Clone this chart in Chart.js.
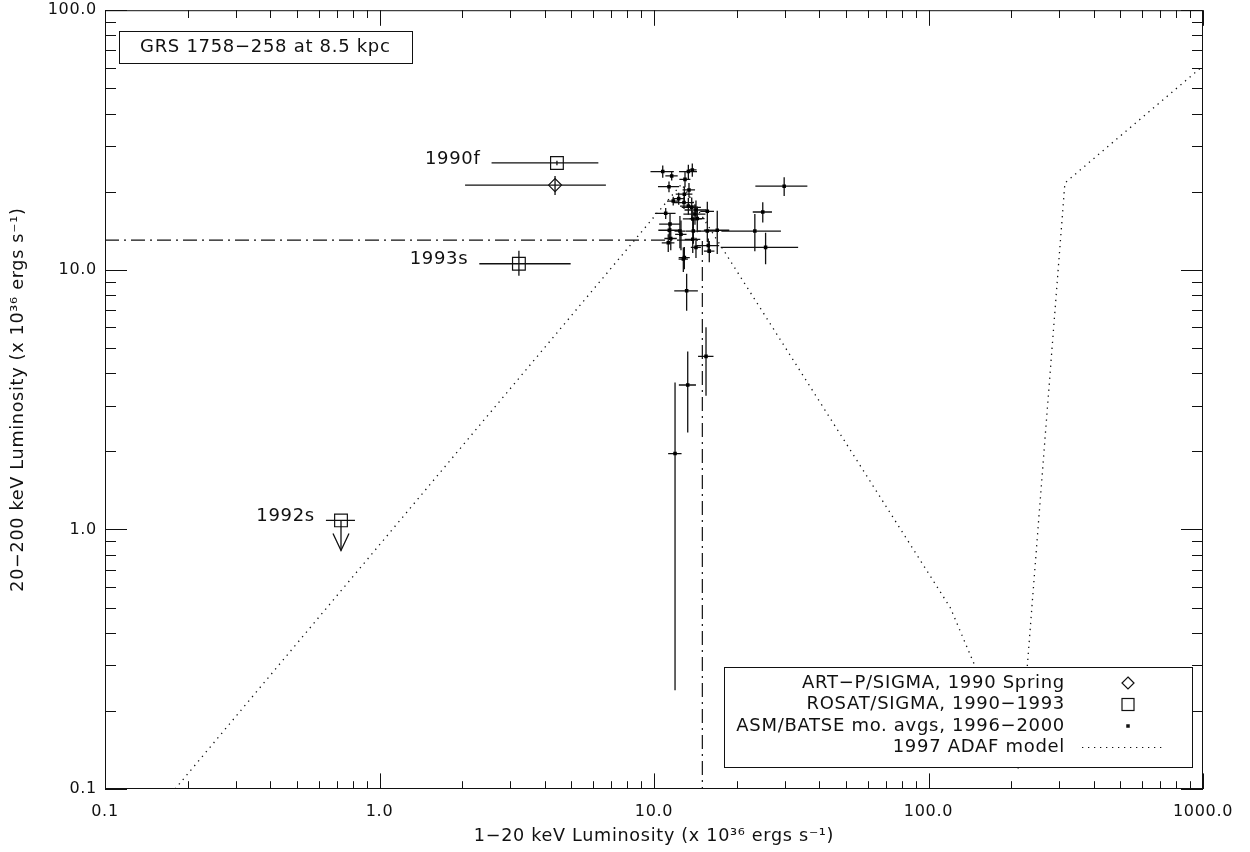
<!DOCTYPE html>
<html><head><meta charset="utf-8">
<script src="https://cdn.jsdelivr.net/npm/chart.js@4.4.1/dist/chart.umd.min.js"></script>
<style>html,body{margin:0;padding:0;background:#fff;}#wrap{width:1250px;height:852px;}</style>
</head><body><div id="wrap"><canvas id="c" width="1250" height="852"></canvas></div>
<script>
// ---------- data ----------
const xMajorTicks = [0.1, 1, 10, 100, 1000];
const xTickLabels = ['0.1', '1.0', '10.0', '100.0', '1000.0'];
const yMajorTicks = [0.1, 1, 10, 100];
const yTickLabels = ['0.1', '1.0', '10.0', '100.0'];

// ASM/BATSE monthly averages 1996-2000
const asmX    = [10.76,11.6,13.34,13.79,12.97,11.34,13.41,12.9,12.3,11.75,12.86,13.34,13.72,14.22,15.64,11.03,14.1,13.84,14.38,11.44,12.43,11.37,13.91,15.64,17.0,12.54,11.51,13.84,11.27,15.77,14.22,15.9,12.9,12.79,13.15,23.3,25.5,24.9,29.8,15.47,13.27,11.93];
const asmY    = [23.9,23.0,23.9,24.25,22.3,20.9,20.3,19.55,18.8,18.4,18.15,17.6,17.4,17.0,16.8,16.5,16.4,15.7,15.75,15.0,14.1,14.2,14.1,14.1,14.2,13.7,13.2,13.1,12.7,12.4,12.2,11.8,11.15,11.0,8.3,14.1,12.2,16.7,21.0,4.64,3.6,1.96];
const asmXErr = [1.05,0.6,1.0,0.5,0.6,1.0,0.7,0.9,0.6,0.6,1.1,0.9,1.1,1.3,0.9,0.95,1.3,1.1,0.9,1.0,0.55,1.0,0.9,1.2,1.8,0.6,0.6,0.9,0.6,1.5,0.6,0.7,0.6,0.5,1.3,5.7,8.0,2.0,6.4,1.0,0.95,0.67];
const asmYErr = [1.3,0.9,1.5,1.4,1.5,1.0,1.3,1.4,1.0,0.7,1.0,1.3,1.6,1.5,1.5,0.8,1.5,1.2,1.8,1.4,2.0,1.0,1.5,1.3,2.7,1.8,1.3,1.5,1.0,0.8,1.1,1.1,1.1,1.2,1.35,2.3,1.7,1.5,1.75,1.37,1.24,1.72];

// ART-P/SIGMA 1990 Spring
const artpX = [4.36], artpY = [21.2];
const artpXLo = [2.31], artpXHi = [2.32], artpYLo = [1.77], artpYHi = [1.78];

// ROSAT/SIGMA 1990-1993
const rosatX = [4.43, 3.22, 0.724];
const rosatY = [25.8, 10.55, 1.083];
const rosatXLo = [1.87, 0.91, 0.086];
const rosatXHi = [1.84, 1.75, 0.090];
const rosatYLo = [0.5, 1.07, 0];
const rosatYHi = [0.5, 1.28, 0];
const rosatLabels = ['1990f', '1993s', '1992s'];
const rosatUpperLimit = [false, false, true];
const upperLimitTip = [null, null, 0.83];

// 1997 ADAF model
const adafX = [0.18, 12.6, 120, 214, 314, 1000];
const adafY = [0.1, 21.4, 0.5, 0.118, 21.6, 61];

// dash-dot reference lines
const refX = [0.1, 15, 15];
const refY = [13, 13, 0.1];

const legendLabels = ['ART−P/SIGMA, 1990 Spring', 'ROSAT/SIGMA, 1990−1993', 'ASM/BATSE mo. avgs, 1996−2000', '1997 ADAF model'];
const boxLabel = 'GRS 1758−258 at 8.5 kpc';
const xTitle = '1−20 keV Luminosity (x 10³⁶ ergs s⁻¹)';
const yTitle = '20−200 keV Luminosity (x 10³⁶ ergs s⁻¹)';

// ---------- styling ----------
const FONT = '"DejaVu Sans", sans-serif';
const INK = '#111';
const DOT_DASH = [1.3, 4.7];
const DASH_DOT = [14, 5, 2, 5];
Chart.defaults.font.family = FONT;
Chart.defaults.color = INK;

const pts = (xs, ys) => xs.map((x, i) => ({x, y: ys[i]}));

function drawErrors(ctx, xs, ys, xlo, xhi, ylo, yhi, x, y) {
  for (let i = 0; i < xs.length; i++) {
    const px = x.getPixelForValue(xs[i]), py = y.getPixelForValue(ys[i]);
    if (xlo[i] > 0 || xhi[i] > 0) {
      const l = x.getPixelForValue(Math.max(xs[i] - xlo[i], 1e-6));
      const r = x.getPixelForValue(xs[i] + xhi[i]);
      ctx.beginPath(); ctx.moveTo(l, py); ctx.lineTo(r, py); ctx.stroke();
    }
    if (ylo[i] > 0 || yhi[i] > 0) {
      const t = y.getPixelForValue(ys[i] + yhi[i]);
      const b = y.getPixelForValue(Math.max(ys[i] - ylo[i], 1e-6));
      ctx.beginPath(); ctx.moveTo(px, t); ctx.lineTo(px, b); ctx.stroke();
    }
  }
}

const textPlugin = {
  id: 'spacing',
  beforeDraw(chart) { chart.ctx.letterSpacing = '0.7px'; }
};

const errorPlugin = {
  id: 'errs',
  beforeDatasetsDraw(chart) {
    const {ctx, chartArea: a, scales: {x, y}} = chart;
    ctx.save();
    ctx.beginPath(); ctx.rect(a.left, a.top, a.right - a.left, a.bottom - a.top); ctx.clip();
    ctx.strokeStyle = INK; ctx.lineWidth = 1.3;
    drawErrors(ctx, asmX, asmY, asmXErr, asmXErr, asmYErr, asmYErr, x, y);
    drawErrors(ctx, artpX, artpY, artpXLo, artpXHi, artpYLo, artpYHi, x, y);
    drawErrors(ctx, rosatX, rosatY, rosatXLo, rosatXHi, rosatYLo, rosatYHi, x, y);
    for (let i = 0; i < rosatX.length; i++) {
      if (!rosatUpperLimit[i]) continue;
      const px = x.getPixelForValue(rosatX[i]);
      const py = y.getPixelForValue(rosatY[i]);
      const ty = y.getPixelForValue(upperLimitTip[i]);
      ctx.beginPath(); ctx.moveTo(px, py); ctx.lineTo(px, ty); ctx.stroke();
      ctx.beginPath(); ctx.moveTo(px - 8, ty - 17); ctx.lineTo(px, ty); ctx.lineTo(px + 8, ty - 17); ctx.stroke();
    }
    ctx.restore();
  }
};

const framePlugin = {
  id: 'frame',
  afterDraw(chart) {
    const {ctx, chartArea: a, scales: {x, y}} = chart;
    ctx.save();
    ctx.letterSpacing = '0.7px';
    ctx.strokeStyle = INK; ctx.lineWidth = 1;
    ctx.strokeRect(a.left + 0.5, a.top + 0.5, a.right - a.left - 1, a.bottom - a.top - 1);
    const xl = 15.6, yl = 22;
    for (let d = 0; d < xMajorTicks.length; d++) {
      for (let k = 1; k <= 9; k++) {
        const v = xMajorTicks[d] * k;
        if (v > xMajorTicks[xMajorTicks.length - 1] * 1.0001) break;
        const p = Math.round(x.getPixelForValue(v)) + 0.5;
        const len = k === 1 ? xl : xl / 2;
        ctx.beginPath();
        ctx.moveTo(p, a.bottom); ctx.lineTo(p, a.bottom - len);
        ctx.moveTo(p, a.top); ctx.lineTo(p, a.top + len);
        ctx.stroke();
      }
    }
    for (let d = 0; d < yMajorTicks.length; d++) {
      for (let k = 1; k <= 9; k++) {
        const v = yMajorTicks[d] * k;
        if (v > yMajorTicks[yMajorTicks.length - 1] * 1.0001) break;
        const p = Math.round(y.getPixelForValue(v)) + 0.5;
        const len = k === 1 ? yl : yl / 2;
        ctx.beginPath();
        ctx.moveTo(a.left, p); ctx.lineTo(a.left + len, p);
        ctx.moveTo(a.right, p); ctx.lineTo(a.right - len, p);
        ctx.stroke();
      }
    }
    // labels next to ROSAT points
    ctx.fillStyle = INK;
    ctx.font = '18px ' + FONT;
    ctx.textAlign = 'right'; ctx.textBaseline = 'middle';
    for (let i = 0; i < rosatX.length; i++) {
      const lx = x.getPixelForValue(rosatX[i] - rosatXLo[i]) - 11;
      const ly = y.getPixelForValue(rosatY[i]) - 4;
      ctx.fillText(rosatLabels[i], lx, ly);
    }
    // source box
    const tw = ctx.measureText(boxLabel).width;
    const bx = 119.5, by = 31.5, bw = Math.round(tw + 42), bh = 32;
    ctx.fillStyle = '#fff';
    ctx.fillRect(bx, by, bw, bh);
    ctx.strokeRect(bx, by, bw, bh);
    ctx.fillStyle = INK; ctx.textAlign = 'left';
    ctx.fillText(boxLabel, 140, 47.5);
    // legend box
    ctx.fillStyle = '#fff';
    ctx.fillRect(724.5, 667.5, 468, 100);
    ctx.strokeRect(724.5, 667.5, 468, 100);
    ctx.fillStyle = INK; ctx.textAlign = 'right';
    const rows = [683, 704.5, 726, 747.5];
    legendLabels.forEach((t, i) => ctx.fillText(t, 1065, rows[i]));
    const sx = 1128;
    ctx.lineWidth = 1.2;
    ctx.beginPath();
    ctx.moveTo(sx, rows[0] - 6); ctx.lineTo(sx + 6, rows[0]); ctx.lineTo(sx, rows[0] + 6); ctx.lineTo(sx - 6, rows[0]); ctx.closePath();
    ctx.stroke();
    ctx.strokeRect(sx - 6, rows[1] - 6, 12, 12);
    ctx.fillRect(sx - 1.75, rows[2] - 1.75, 3.5, 3.5);
    ctx.setLineDash(DOT_DASH);
    ctx.beginPath(); ctx.moveTo(1082, rows[3]); ctx.lineTo(1166, rows[3]); ctx.stroke();
    ctx.restore();
  }
};

const zeroPad = s => { s.paddingTop = 0; s.paddingBottom = 0; s.paddingLeft = 0; s.paddingRight = 0; };

new Chart(document.getElementById('c'), {
  type: 'scatter',
  data: {
    datasets: [
      {label: 'ref', data: pts(refX, refY), showLine: true, borderColor: INK, borderWidth: 1.2, borderDash: DASH_DOT, pointRadius: 0, fill: false},
      {label: '1997 ADAF model', data: pts(adafX, adafY), showLine: true, borderColor: INK, borderWidth: 1.3, borderDash: DOT_DASH, pointRadius: 0, fill: false},
      {label: 'ASM/BATSE', data: pts(asmX, asmY), pointStyle: 'rect', pointRadius: 2.5, backgroundColor: '#000', borderColor: '#000', borderWidth: 0},
      {label: 'ART-P/SIGMA', data: pts(artpX, artpY), pointStyle: 'rectRot', pointRadius: 6.5, backgroundColor: 'rgba(0,0,0,0)', borderColor: INK, borderWidth: 1.2},
      {label: 'ROSAT/SIGMA', data: pts(rosatX, rosatY), pointStyle: 'rect', pointRadius: 9, backgroundColor: 'rgba(0,0,0,0)', borderColor: INK, borderWidth: 1.2}
    ]
  },
  options: {
    responsive: false, animation: false, events: [],
    layout: {padding: {top: 9, right: 47, left: 0, bottom: 0}},
    plugins: {legend: {display: false}, tooltip: {enabled: false}},
    scales: {
      x: {
        type: 'logarithmic', position: 'bottom', min: xMajorTicks[0], max: xMajorTicks[xMajorTicks.length - 1],
        afterBuildTicks: s => { s.ticks = xMajorTicks.map(v => ({value: v})); },
        afterFit: s => { s.height = 63; zeroPad(s); },
        grid: {display: false, drawTicks: false}, border: {display: false},
        ticks: {autoSkip: false, maxRotation: 0, padding: 13, font: {size: 16, lineHeight: 1.2}, color: INK,
          callback: v => { const i = xMajorTicks.indexOf(v); return i >= 0 ? xTickLabels[i] : ''; }},
        title: {display: true, text: xTitle, font: {size: 17.6, lineHeight: 1.2}, color: INK, padding: {top: 0, bottom: 5}}
      },
      y: {
        type: 'logarithmic', position: 'left', min: yMajorTicks[0], max: yMajorTicks[yMajorTicks.length - 1],
        afterBuildTicks: s => { s.ticks = yMajorTicks.map(v => ({value: v})); },
        afterFit: s => { s.width = 105; zeroPad(s); },
        grid: {display: false, drawTicks: false}, border: {display: false},
        ticks: {autoSkip: false, padding: 8, font: {size: 16, lineHeight: 1.2}, color: INK,
          callback: v => { const i = yMajorTicks.indexOf(v); return i >= 0 ? yTickLabels[i] : ''; }},
        title: {display: true, text: yTitle, font: {size: 17.6, lineHeight: 1.2}, color: INK, padding: {top: 7.5, bottom: 0}}
      }
    }
  },
  plugins: [textPlugin, errorPlugin, framePlugin]
});
</script></body></html>
